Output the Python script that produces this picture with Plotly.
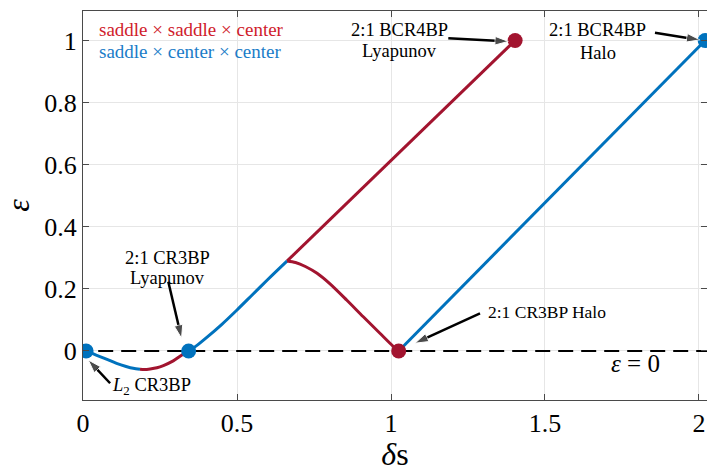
import plotly.graph_objects as go

# ---- data ----
# blue branch near L2 (saddle x center x center)
blue1_x = [0.01, 0.03, 0.055, 0.08, 0.109, 0.14, 0.163, 0.185]
blue1_y = [0.0, -0.008, -0.018, -0.028, -0.040, -0.050, -0.056, -0.059]
# red dip segment (saddle x saddle x center)
red1_x = [0.185, 0.20, 0.218, 0.24, 0.261, 0.293, 0.320, 0.343]
red1_y = [-0.059, -0.060, -0.058, -0.054, -0.047, -0.032, -0.014, 0.0]
# blue branch from 2:1 CR3BP Lyapunov to bifurcation
blue2_x = [0.343, 0.37, 0.40, 0.45, 0.50, 0.55, 0.60, 0.663]
blue2_y = [0.0, 0.018, 0.042, 0.085, 0.132, 0.181, 0.230, 0.290]
# red: bifurcation to 2:1 BCR4BP Lyapunov
red2_x = [0.663, 1.403]
red2_y = [0.290, 1.0]
# red arc: bifurcation to 2:1 CR3BP Halo
red3_x = [0.663, 0.690, 0.722, 0.760, 0.802, 0.856, 0.910, 0.964, 1.007, 1.025]
red3_y = [0.290, 0.285, 0.272, 0.250, 0.216, 0.164, 0.110, 0.057, 0.015, 0.0]
# blue: 2:1 CR3BP Halo to 2:1 BCR4BP Halo
blue3_x = [1.025, 2.02]
blue3_y = [0.0, 1.0]

blue_pts_x = [0.01, 0.343, 2.02]
blue_pts_y = [0.0, 0.0, 1.0]
red_pts_x = [1.025, 1.403]
red_pts_y = [0.0, 1.0]

x_ticks = [0, 0.5, 1, 1.5, 2]
x_ticktext = ["0", "0.5", "1", "1.5", "2"]
y_ticks = [0, 0.2, 0.4, 0.6, 0.8, 1]
y_ticktext = ["0", "0.2", "0.4", "0.6", "0.8", "1"]

RED = "#A2142F"
BLUE = "#0072BD"
RED_TXT = "#D01C2C"
BLUE_TXT = "#1A7CC8"
FONT = "Liberation Serif"

fig = go.Figure()

# epsilon = 0 dashed line
fig.add_trace(go.Scatter(x=[-0.1, 2.2], y=[0, 0], mode="lines",
                         line=dict(color="black", width=2, dash="15px,8px"),
                         hoverinfo="skip", showlegend=False))

for xs, ys, c, shp in [(blue1_x, blue1_y, BLUE, "spline"), (red1_x, red1_y, RED, "spline"),
                       (blue2_x, blue2_y, BLUE, "spline"), (red2_x, red2_y, RED, "linear"),
                       (red3_x, red3_y, RED, "spline"), (blue3_x, blue3_y, BLUE, "linear")]:
    fig.add_trace(go.Scatter(x=xs, y=ys, mode="lines",
                             line=dict(color=c, width=3, shape=shp, smoothing=0.8),
                             showlegend=False))

fig.add_trace(go.Scatter(x=blue_pts_x, y=blue_pts_y, mode="markers",
                         marker=dict(color=BLUE, size=15), showlegend=False))
fig.add_trace(go.Scatter(x=red_pts_x, y=red_pts_y, mode="markers",
                         marker=dict(color=RED, size=15), showlegend=False))

# arrows (tail -> head) drawn as lines with an arrow marker at the head
arrows = [
    ((1.186, 1.007), (1.381, 0.997)),
    ((1.857, 1.025), (2.003, 1.002)),
    ((0.277, 0.223), (0.320, 0.041)),
    ((0.088, -0.104), (0.017, -0.029)),
    ((1.289, 0.121), (1.078, 0.025)),
]
for (tx, ty), (hx, hy) in arrows:
    fig.add_trace(go.Scatter(x=[tx, hx], y=[ty, hy], mode="lines+markers",
                             line=dict(color="black", width=2.5),
                             marker=dict(symbol=["circle", "arrow"], size=[0, 14],
                                         angleref="previous", color="black"),
                             hoverinfo="skip", showlegend=False))

ann = []
# legend-like colored texts
ann.append(dict(x=0.045, y=1.035, xref="x", yref="y", text="saddle × saddle × center",
                showarrow=False, xanchor="left", yanchor="middle",
                font=dict(family=FONT, size=19, color=RED_TXT)))
ann.append(dict(x=0.045, y=0.965, xref="x", yref="y", text="saddle × center × center",
                showarrow=False, xanchor="left", yanchor="middle",
                font=dict(family=FONT, size=19, color=BLUE_TXT)))

# labels (one annotation per line)
labels = [
    (1.029, 1.035, "2:1 BCR4BP", 18.5),
    (1.029, 0.965, "Lyapunov", 18.5),
    (1.672, 1.035, "2:1 BCR4BP", 18.5),
    (1.672, 0.960, "Halo", 18.5),
    (0.273, 0.300, "2:1 CR3BP", 18.5),
    (0.273, 0.236, "Lyapunov", 18.5),
    (0.222, -0.115, "<i>L</i><sub>2</sub> CR3BP", 18.5),
    (1.508, 0.125, "2:1 CR3BP Halo", 17.5),
    (1.795, -0.042, "<i>ε</i> = 0", 25),
]
for x, y, t, s in labels:
    ann.append(dict(x=x, y=y, xref="x", yref="y", text=t, showarrow=False,
                    xanchor="center", yanchor="middle",
                    font=dict(family=FONT, size=s, color="black")))

fig.update_layout(
    width=707, height=472,
    margin=dict(l=83, r=0, t=11, b=72),
    paper_bgcolor="white", plot_bgcolor="white",
    annotations=ann,
    font=dict(family=FONT, color="black"),
)
axis_common = dict(showline=True, linecolor="#4a4a4a", linewidth=1, mirror="allticks",
                   ticks="inside", ticklen=6, tickcolor="#4a4a4a",
                   showgrid=True, gridcolor="#e6e6e6", gridwidth=1, zeroline=False,
                   tickfont=dict(family=FONT, size=26, color="black"))
fig.update_xaxes(range=[0, 2.026], tickvals=x_ticks, ticktext=x_ticktext,
                 title=dict(text="<i>δ</i>s", font=dict(family=FONT, size=32), standoff=0),
                 **axis_common)
fig.update_yaxes(range=[-0.158, 1.095], tickvals=y_ticks, ticktext=y_ticktext,
                 title=dict(text="<i>ε</i>", font=dict(family=FONT, size=32), standoff=10),
                 **axis_common)

fig.write_html("out.html")
